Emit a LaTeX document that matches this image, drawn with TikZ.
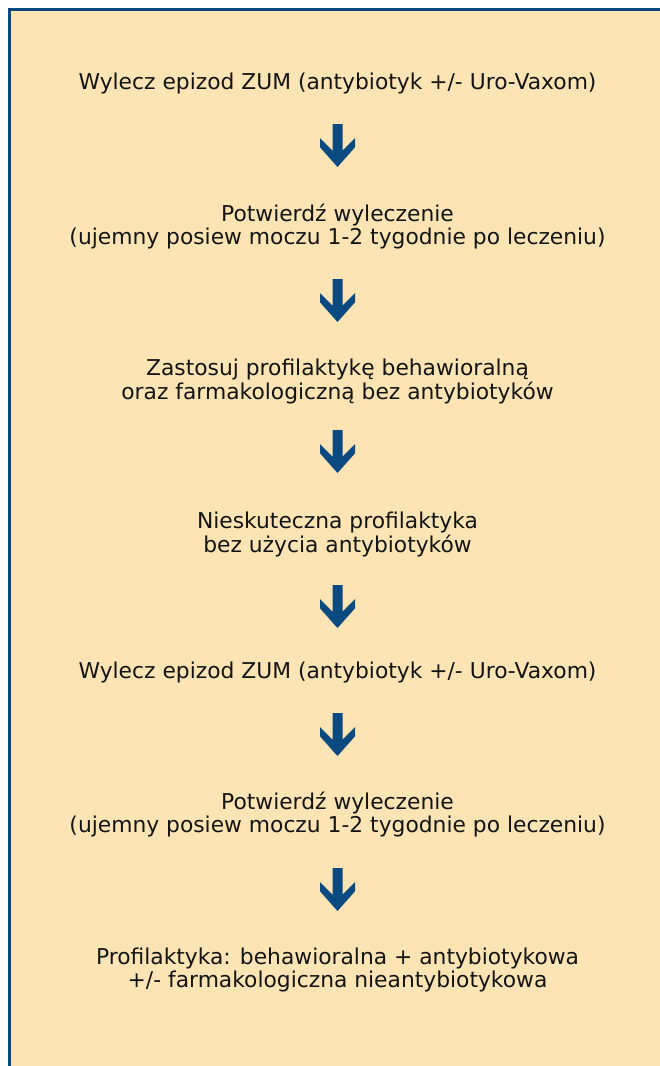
\documentclass[tikz,border=0pt]{standalone}
\usepackage{fontspec}
\setmainfont{DejaVu Sans}
\definecolor{bgfill}{RGB}{252,228,180}
\definecolor{navyblue}{RGB}{11,74,128}
\definecolor{inkcol}{RGB}{20,20,20}
\newcommand{\mytwolines}[2]{\begin{tabular}[t]{@{}c@{}}#1\\#2\end{tabular}}
\tikzset{
  txt/.style={anchor=base, inner sep=0pt, text=inkcol, font=\fontsize{21.8}{23}\selectfont},
  downarrow/.pic={\fill[navyblue] (-5,0) -- (5,0) -- (5,-26.7) -- (17.5,-14) -- (17.5,-23.3) -- (0,-43) -- (-17.5,-23.3) -- (-17.5,-14) -- (-5,-26.7) -- cycle;}
}
\begin{document}
\begin{tikzpicture}[x=1pt,y=1pt]
\useasboundingbox (0,0) rectangle (660,-1066);
\fill[bgfill] (9.5,-9.5) rectangle (660,-1066);
\draw[navyblue, line width=3pt] (660,-9.5) -- (9.5,-9.5) -- (9.5,-1066);

\node[txt] (t1) at (337.5,-89) {Wylecz epizod ZUM (antybiotyk +/- Uro-Vaxom)};
\coordinate (a1) at (337.5,-124);
\pic at (a1) {downarrow};
\node[txt] (t2) at (337.5,-221) {\mytwolines{Potwierdź wyleczenie}{(ujemny posiew moczu 1-2 tygodnie po leczeniu)}};
\coordinate (a2) at (337.5,-279);
\pic at (a2) {downarrow};
\node[txt] (t3) at (337.5,-375) {\mytwolines{Zastosuj profilaktykę behawioralną}{oraz farmakologiczną bez antybiotyków}};
\coordinate (a3) at (337.5,-430);
\pic at (a3) {downarrow};
\node[txt] (t4) at (337.5,-528) {\mytwolines{Nieskuteczna profilaktyka}{bez użycia antybiotyków}};
\coordinate (a4) at (337.5,-585);
\pic at (a4) {downarrow};
\node[txt] (t5) at (337.5,-678) {Wylecz epizod ZUM (antybiotyk +/- Uro-Vaxom)};
\coordinate (a5) at (337.5,-713);
\pic at (a5) {downarrow};
\node[txt] (t6) at (337.5,-809) {\mytwolines{Potwierdź wyleczenie}{(ujemny posiew moczu 1-2 tygodnie po leczeniu)}};
\coordinate (a6) at (337.5,-868);
\pic at (a6) {downarrow};
\node[txt] (t7) at (337.5,-964) {\mytwolines{Profilaktyka: behawioralna + antybiotykowa}{+/- farmakologiczna nieantybiotykowa}};
\end{tikzpicture}
\end{document}
